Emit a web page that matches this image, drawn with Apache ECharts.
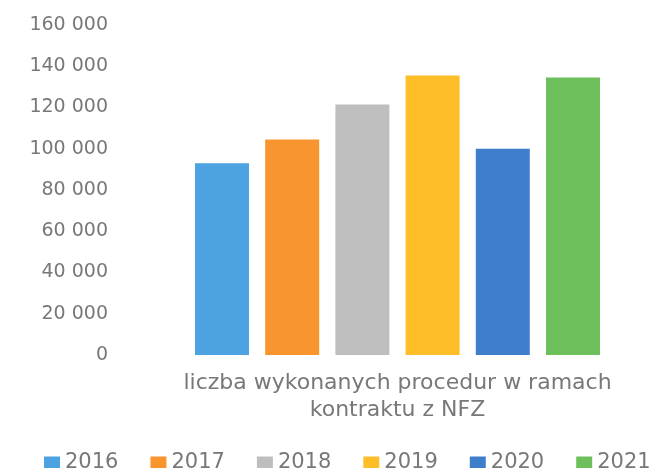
<!DOCTYPE html>
<html>
<head>
<meta charset="utf-8">
<script src="https://cdn.jsdelivr.net/npm/echarts@6/dist/echarts.min.js"></script>
<style>html,body{margin:0;padding:0;background:#fff;}#c{width:654px;height:468px;}</style>
</head>
<body>
<div id="c"></div>
<script>
const categories = ['liczba wykonanych procedur w ramach\nkontraktu z NFZ'];
const years = ['2016', '2017', '2018', '2019', '2020', '2021'];
const values = [93000, 104500, 121500, 135500, 100000, 134500];
const yTicks = [0, 20000, 40000, 60000, 80000, 100000, 120000, 140000, 160000];
const colors = ['#4DA2E2', '#F8952E', '#BEBEBE', '#FDBE28', '#3E7ECB', '#6DBF5B'];

const fmt = v => String(v).replace(/\B(?=(\d{3})+(?!\d))/g, ' ');
const textColor = '#787878';
const font = 'DejaVu Sans';

const chart = echarts.init(document.getElementById('c'), null, {renderer: 'canvas'});
chart.setOption({
  animation: false,
  backgroundColor: '#ffffff',
  grid: {left: 141, right: 0, top: 25, bottom: 113},
  legend: {
    data: years,
    left: 44, top: 452, width: 640,
    padding: 0,
    itemWidth: 16, itemHeight: 12, itemGap: 32,
    icon: 'rect',
    textStyle: {color: textColor, fontFamily: font, fontSize: 21}
  },
  xAxis: {
    type: 'category',
    data: categories,
    axisLine: {show: false},
    axisTick: {show: false},
    axisLabel: {color: textColor, fontFamily: font, fontSize: 22, lineHeight: 27, margin: 15, align: 'center'}
  },
  yAxis: {
    type: 'value',
    min: yTicks[0], max: yTicks[yTicks.length - 1], interval: yTicks[1] - yTicks[0],
    splitLine: {show: false},
    axisLine: {show: false},
    axisTick: {show: false},
    axisLabel: {color: textColor, fontFamily: font, fontSize: 19, margin: 33, formatter: v => fmt(v)}
  },
  series: years.map((y, i) => ({
    name: y,
    type: 'bar',
    data: [values[i]],
    barWidth: 54,
    barGap: '30%',
    itemStyle: {color: colors[i]}
  }))
});
</script>
</body>
</html>
